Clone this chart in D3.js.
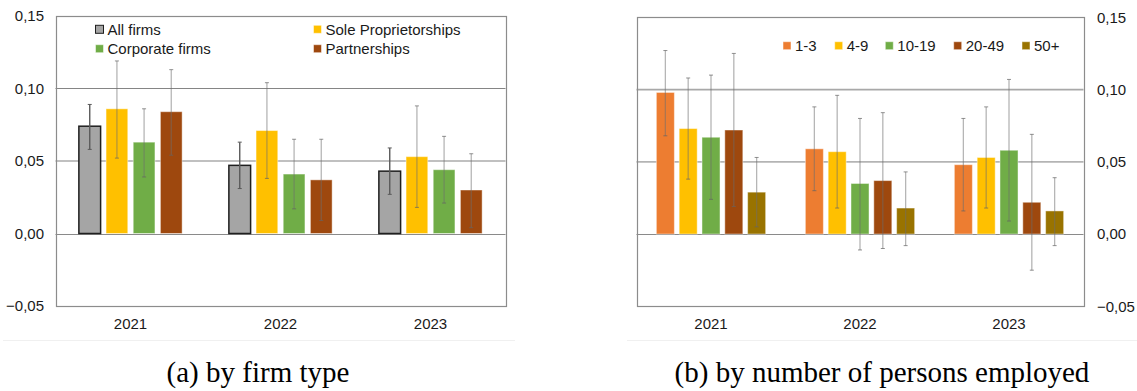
<!DOCTYPE html>
<html>
<head>
<meta charset="utf-8">
<script src="https://cdn.jsdelivr.net/npm/d3@7"></script>
<style>
  html, body { margin: 0; padding: 0; background: #fff; }
  svg { display: block; }
  text { font-family: "Liberation Sans", Arial, sans-serif; fill: #1a1a1a; }
  .caption { font-family: "Liberation Serif", "Times New Roman", serif; fill: #000; }
</style>
</head>
<body>
<svg id="chart" width="1137" height="391"></svg>
<script>
// ---- Data -------------------------------------------------------------
const years = ["2021", "2022", "2023"];
const yTicks = [0.15, 0.10, 0.05, 0.00, -0.05];
const tickFormat = v => d3.format(".2f")(v).replace(".", ",");

// Panel (a): by firm type
const typeSeries = ["All firms", "Sole Proprietorships", "Corporate firms", "Partnerships"];
const typeColors = ["#a5a5a5", "#ffc000", "#70ad47", "#9e480e"];
const allFirms      = [0.074, 0.047, 0.043];
const allFirmsLow   = [0.058, 0.031, 0.027];
const allFirmsHigh  = [0.089, 0.063, 0.059];
const soleProp      = [0.086, 0.071, 0.053];
const solePropLow   = [0.052, 0.038, 0.018];
const solePropHigh  = [0.119, 0.104, 0.088];
const corporate     = [0.063, 0.041, 0.044];
const corporateLow  = [0.039, 0.017, 0.021];
const corporateHigh = [0.086, 0.065, 0.067];
const partnerships     = [0.084, 0.037, 0.030];
const partnershipsLow  = [0.054, 0.009, 0.004];
const partnershipsHigh = [0.113, 0.065, 0.055];

// Panel (b): by number of persons employed
const sizeSeries = ["1-3", "4-9", "10-19", "20-49", "50+"];
const sizeColors = ["#ed7d31", "#ffc000", "#70ad47", "#9e480e", "#997300"];
const size1to3      = [0.098, 0.059, 0.048];
const size1to3Low   = [0.068, 0.030, 0.016];
const size1to3High  = [0.127, 0.088, 0.080];
const size4to9      = [0.073, 0.057, 0.053];
const size4to9Low   = [0.038, 0.018, 0.018];
const size4to9High  = [0.108, 0.096, 0.088];
const size10to19     = [0.067, 0.035, 0.058];
const size10to19Low  = [0.024, -0.011, 0.009];
const size10to19High = [0.110, 0.080, 0.107];
const size20to49     = [0.072, 0.037, 0.022];
const size20to49Low  = [0.019, -0.010, -0.025];
const size20to49High = [0.125, 0.084, 0.069];
const size50plus     = [0.029, 0.018, 0.016];
const size50plusLow  = [0.005, -0.008, -0.008];
const size50plusHigh = [0.053, 0.043, 0.039];

const typeValues = [
  [allFirms, allFirmsLow, allFirmsHigh],
  [soleProp, solePropLow, solePropHigh],
  [corporate, corporateLow, corporateHigh],
  [partnerships, partnershipsLow, partnershipsHigh]
];
const sizeValues = [
  [size1to3, size1to3Low, size1to3High],
  [size4to9, size4to9Low, size4to9High],
  [size10to19, size10to19Low, size10to19High],
  [size20to49, size20to49Low, size20to49High],
  [size50plus, size50plusLow, size50plusHigh]
];

const svg = d3.select("#chart");

function drawPanel(cfg) {
  const g = svg.append("g");
  const y = d3.scaleLinear().domain([-0.05, 0.15]).range([cfg.bottom, cfg.top]);
  const x0 = d3.scaleBand().domain(years).range([cfg.left, cfg.right]).padding(0);
  const x1 = d3.scaleBand().domain(cfg.series).range([0, x0.bandwidth()])
    .paddingInner(cfg.padInner).paddingOuter(cfg.padOuter);

  // faint outer frame line under the category labels
  g.append("line")
    .attr("x1", cfg.frameX1).attr("x2", cfg.frameX2)
    .attr("y1", 340.5).attr("y2", 340.5)
    .attr("stroke", "#f0f0f0").attr("stroke-width", 1);

  // horizontal gridlines
  g.append("g").selectAll("line")
    .data([0.10, 0.05])
    .join("line")
    .attr("x1", cfg.left).attr("x2", cfg.right)
    .attr("y1", d => y(d)).attr("y2", d => y(d))
    .attr("stroke", (d, i) => cfg.gridColors[i])
    .attr("stroke-width", (d, i) => cfg.gridWidths[i]);

  // zero line
  g.append("line")
    .attr("x1", cfg.left).attr("x2", cfg.right)
    .attr("y1", Math.round(y(0)) + 0.5).attr("y2", Math.round(y(0)) + 0.5)
    .attr("stroke", "#8a8a8a").attr("stroke-width", 1.2);

  // plot area border
  g.append("rect")
    .attr("x", Math.round(cfg.left) + 0.5).attr("y", Math.round(cfg.top) + 0.5)
    .attr("width", Math.round(cfg.right - cfg.left)).attr("height", Math.round(cfg.bottom - cfg.top))
    .attr("fill", "none").attr("stroke", "#8c8c8c").attr("stroke-width", 1.2);

  // y-axis labels
  const axis = cfg.axisSide === "left"
    ? d3.axisLeft(y).tickValues(yTicks).tickFormat(tickFormat).tickSize(0).tickPadding(cfg.left - cfg.labelX)
    : d3.axisRight(y).tickValues(yTicks).tickFormat(tickFormat).tickSize(0).tickPadding(cfg.labelX - cfg.right);
  const axG = g.append("g")
    .attr("transform", `translate(${cfg.axisSide === "left" ? cfg.left : cfg.right},0)`)
    .call(axis);
  axG.select(".domain").remove();
  axG.selectAll("text").attr("font-size", 15).attr("fill", "#1a1a1a")
    .style("font-family", '"Liberation Sans", Arial, sans-serif');

  // x-axis category labels
  const axX = g.append("g")
    .attr("transform", `translate(0,${cfg.bottom})`)
    .call(d3.axisBottom(x0).tickSize(0).tickPadding(12));
  axX.select(".domain").remove();
  axX.selectAll("text").attr("font-size", 15).attr("fill", "#1a1a1a")
    .style("font-family", '"Liberation Sans", Arial, sans-serif');

  // bars
  const rows = [];
  cfg.values.forEach((arr, si) => {
    years.forEach((yr, yi) => {
      rows.push({ series: cfg.series[si], si, year: yr, v: arr[0][yi], lo: arr[1][yi], hi: arr[2][yi] });
    });
  });

  g.append("g").selectAll("rect")
    .data(rows)
    .join("rect")
    .attr("x", d => x0(d.year) + x1(d.series))
    .attr("width", x1.bandwidth())
    .attr("y", d => y(Math.max(0, d.v)))
    .attr("height", d => Math.abs(y(d.v) - y(0)))
    .attr("fill", d => cfg.colors[d.si])
    .attr("stroke", d => cfg.outlined && d.si === 0 ? "#1f1f1f" : "rgba(255,255,255,0.45)")
    .attr("stroke-width", d => cfg.outlined && d.si === 0 ? 1.5 : 1);

  // error bars
  const eb = g.append("g").selectAll("g")
    .data(rows)
    .join("g")
    .attr("transform", d => `translate(${x0(d.year) + x1(d.series) + x1.bandwidth() / 2},0)`);
  const ebColor = d => cfg.outlined && d.si === 0 ? "#5a5a5a" : "rgba(110,110,110,0.5)";
  eb.append("line")
    .attr("x1", 0).attr("x2", 0)
    .attr("y1", d => y(d.lo)).attr("y2", d => y(d.hi))
    .attr("stroke", ebColor).attr("stroke-width", d => cfg.outlined && d.si === 0 ? 1.4 : 1.3);
  ["lo", "hi"].forEach(k => {
    eb.append("line")
      .attr("x1", -2).attr("x2", 2)
      .attr("y1", d => y(d[k])).attr("y2", d => y(d[k]))
      .attr("stroke", d => cfg.outlined && d.si === 0 ? "#5a5a5a" : "rgba(100,100,100,0.7)")
      .attr("stroke-width", 1);
  });

  // legend
  const leg = g.append("g");
  cfg.legendPos.forEach((p, i) => {
    const item = leg.append("g").attr("transform", `translate(${p[0]},${p[1]})`);
    item.append("rect")
      .attr("x", 0).attr("y", -4).attr("width", 8).attr("height", 8)
      .attr("fill", cfg.colors[i])
      .attr("stroke", cfg.outlined && i === 0 ? "#1f1f1f" : "rgba(255,255,255,0.5)")
      .attr("stroke-width", 1);
    item.append("text")
      .attr("x", 12).attr("y", 0).attr("dy", "0.35em")
      .attr("font-size", 15).attr("fill", "#1a1a1a")
      .text(cfg.series[i]);
  });

  // caption
  g.append("text")
    .attr("class", "caption")
    .attr("x", cfg.captionX).attr("y", 382)
    .attr("text-anchor", "middle")
    .attr("font-size", 29)
    .text(cfg.caption);
}

drawPanel({
  series: typeSeries, colors: typeColors, values: typeValues,
  left: 55.5, right: 505.5, top: 16, bottom: 306,
  padInner: 0.2, padOuter: 0.86,
  axisSide: "left", labelX: 44,
  gridColors: ["#858585", "#c0c0c0"], gridWidths: [1.2, 2],
  outlined: true,
  legendPos: [[95.5, 29.3], [313.5, 29.3], [95.5, 48.7], [313.5, 48.7]],
  frameX1: 3, frameX2: 515,
  caption: "(a) by firm type", captionX: 258
});

drawPanel({
  series: sizeSeries, colors: sizeColors, values: sizeValues,
  left: 636.5, right: 1083.5, top: 17.3, bottom: 306.3,
  padInner: 0.21, padOuter: 0.87,
  axisSide: "right", labelX: 1097,
  gridColors: ["#a8a8a8", "#b4b4b4"], gridWidths: [1.8, 1.8],
  outlined: false,
  legendPos: [[783, 45.7], [834.7, 45.7], [885.3, 45.7], [953.7, 45.7], [1022, 45.7]],
  frameX1: 627, frameX2: 1137,
  caption: "(b) by number of persons employed", captionX: 882
});
</script>
</body>
</html>
